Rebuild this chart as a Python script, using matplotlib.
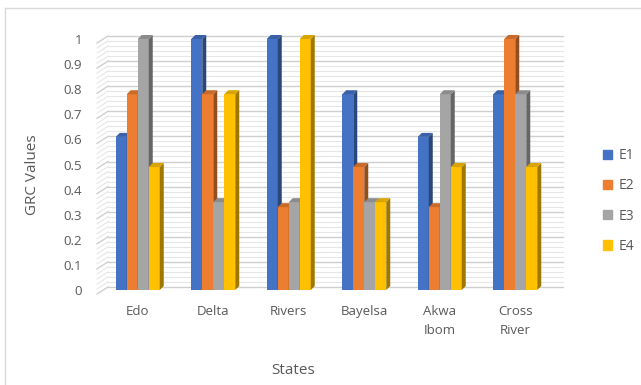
import matplotlib.pyplot as plt
from matplotlib.patches import Polygon
from matplotlib.lines import Line2D
import matplotlib.colors as mcolors
import numpy as np

plt.rcParams['font.family'] = ['Open Sans', 'DejaVu Sans']

states = ["Edo", "Delta", "Rivers", "Bayelsa", "Akwa\nIbom", "Cross\nRiver"]
series = ["E1", "E2", "E3", "E4"]
e1 = [0.61, 1.00, 1.00, 0.78, 0.61, 0.78]
e2 = [0.78, 0.78, 0.33, 0.49, 0.33, 1.00]
e3 = [1.00, 0.35, 0.35, 0.35, 0.78, 0.78]
e4 = [0.49, 0.78, 1.00, 0.35, 0.49, 0.49]
colors = ["#4472C4", "#ED7D31", "#A5A5A5", "#FFC000"]
data = [e1, e2, e3, e4]

W, H = 641, 385
fig = plt.figure(figsize=(W / 100, H / 100), dpi=100)
ax = fig.add_axes([100 / W, 95 / H, 453 / W, 251 / H])
ax.set_xlim(-0.5, 5.5)
ax.set_ylim(0, 1)
for s in ax.spines.values():
    s.set_visible(False)

# pixel -> data conversion for the fake depth
px_x = 6 / 453
px_y = 1 / 251

def shade(c, f):
    r, g, b = mcolors.to_rgb(c)
    return (r * f, g * f, b * f)

# back wall gridlines with a short slanted floor segment on the left
for v in np.arange(0, 1.0001, 0.02):
    major = abs(v * 10 - round(v * 10)) < 1e-6
    col = "#cfcfcf" if major else "#e6e6e6"
    lw = 1.0 if major else 0.8
    y_back = v + 3 * px_y
    ax.plot([-0.5 + 8 * px_x, 5.5 + 10 * px_x], [y_back, y_back],
            color=col, lw=lw, zorder=0, clip_on=False)
    ax.plot([-0.5 - 3 * px_x, -0.5 + 8 * px_x], [v - 4 * px_y, y_back],
            color=col, lw=lw, zorder=0, clip_on=False)

bw = 11 * px_x
dx, dy = 4 * px_x, 4 * px_y
x = np.arange(len(states))
z = 2
# draw left to right so each front face hides the side of its neighbour
for j in range(len(states)):
    for i in range(4):
        v = data[i][j]
        x0 = x[j] + (i - 2) * bw
        x1 = x0 + bw
        c = colors[i]
        ax.bar(x0, v, width=bw, align="edge", color=c, zorder=z, linewidth=0)
        ax.add_patch(Polygon([(x1, 0), (x1 + dx, dy), (x1 + dx, v + dy), (x1, v)],
                             closed=True, color=shade(c, 0.62), lw=0, zorder=z, clip_on=False))
        ax.add_patch(Polygon([(x0, v), (x1, v), (x1 + dx, v + dy), (x0 + dx, v + dy)],
                             closed=True, color=shade(c, 0.85), lw=0, zorder=z, clip_on=False))
        z += 1

ax.set_yticks(np.arange(0, 1.01, 0.1))
ax.set_yticklabels(["0", "0.1", "0.2", "0.3", "0.4", "0.5", "0.6", "0.7", "0.8", "0.9", "1"])
ax.tick_params(axis="y", length=0, pad=13, labelsize=9.5, labelcolor="#595959")
ax.set_xticks(x)
ax.set_xticklabels(states, linespacing=1.55)
ax.tick_params(axis="x", length=0, pad=11, labelsize=9.5, labelcolor="#595959")

fig.text(33 / W, 1 - 175 / H, "GRC Values", rotation=90, ha="center", va="center",
         fontsize=11, color="#595959")
fig.text(293 / W, 1 - 370 / H, "States", ha="center", va="center",
         fontsize=11, color="#595959")

handles = [plt.Rectangle((0, 0), 1, 1, color=c) for c in colors]
fig.legend(handles, series, loc="center left", bbox_to_anchor=(590 / W, 1 - 201 / H),
           frameon=False, fontsize=10, labelcolor="#595959", handlelength=0.65,
           handleheight=0.65, handletextpad=0.5, labelspacing=1.1)

# outer chart frame (top and left edges)
fig.add_artist(Line2D([5 / W, 1], [1 - 8 / H, 1 - 8 / H], color="#d9d9d9", lw=1))
fig.add_artist(Line2D([5 / W, 5 / W], [0, 1 - 8 / H], color="#d9d9d9", lw=1))

fig.savefig("out.png", dpi=100)
